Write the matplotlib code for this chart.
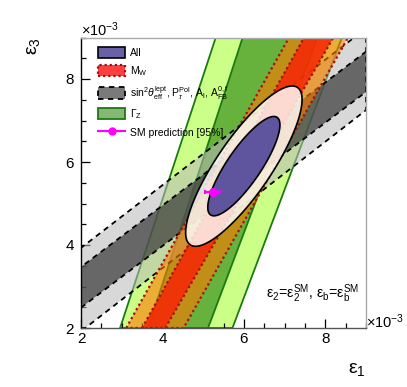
import numpy as np
import matplotlib
matplotlib.use('Agg')
import matplotlib.pyplot as plt
from matplotlib.patches import Polygon, Patch
from matplotlib.lines import Line2D
from matplotlib.ticker import MultipleLocator

plt.rcParams['font.family'] = ['Liberation Sans', 'DejaVu Sans']
plt.rcParams['mathtext.fontset'] = 'custom'
plt.rcParams['mathtext.rm'] = 'Liberation Sans'
plt.rcParams['mathtext.it'] = 'Liberation Sans:italic'
plt.rcParams['mathtext.bf'] = 'Liberation Sans:bold'

# ---------------- data (units of 1e-3) ----------------
XLIM = [2, 9]
YLIM = [2, 9]
x_ticks = [2, 4, 6, 8]
y_ticks = [2, 4, 6, 8]

# Gamma_Z band: x of boundary at y=2 and y=9
gz_outer_lo = [2.96, 5.31]
gz_outer_hi = [5.72, 8.41]
gz_inner_lo = [3.65, 5.97]
gz_inner_hi = [5.12, 7.81]

# M_W band: x of boundary at y=2 and y=9
mw_outer_lo = [3.11, 7.11]
mw_outer_hi = [4.52, 8.56]
mw_inner_lo = [3.50, 7.48]
mw_inner_hi = [4.07, 8.20]

# sin2theta band: y of boundary at x=2 and x=9
st_outer_lo = [1.92, 7.25]
st_outer_hi = [3.93, 9.22]
st_inner_lo = [2.49, 7.69]
st_inner_hi = [3.47, 8.66]

# combined fit ellipse
all_center = [6.0, 5.9]
all_sigma = [0.584, 0.789]
all_rho = 0.83
cl_k = [1.517, 2.448]  # 68%, 95% (2 dof)

# SM prediction
sm_x = [5.23]
sm_y = [5.27]
sm_xerr = [0.18]

labels = ['All', 'M$_{\\rm W}$',
          'sin$^2\\theta^{\\rm lept}_{\\rm eff}$, P$^{\\rm Pol}_{\\tau}$, A$_{\\rm l}$, A$^{\\rm 0,f}_{\\rm FB}$',
          '\u0393$_{\\rm Z}$', 'SM prediction [95%]']


# ---------------- helpers ----------------
def clip_poly(pts, xmin, xmax, ymin, ymax):
    def clip(points, inside, intersect):
        out = []
        n = len(points)
        for i in range(n):
            cur = points[i]
            prev = points[i - 1]
            if inside(cur):
                if not inside(prev):
                    out.append(intersect(prev, cur))
                out.append(cur)
            elif inside(prev):
                out.append(intersect(prev, cur))
        return out

    def ix(xc):
        def f(p, q):
            t = (xc - p[0]) / (q[0] - p[0])
            return (xc, p[1] + t * (q[1] - p[1]))
        return f

    def iy(yc):
        def f(p, q):
            t = (yc - p[1]) / (q[1] - p[1])
            return (p[0] + t * (q[0] - p[0]), yc)
        return f

    pts = clip(pts, lambda p: p[0] >= xmin, ix(xmin))
    pts = clip(pts, lambda p: p[0] <= xmax, ix(xmax))
    pts = clip(pts, lambda p: p[1] >= ymin, iy(ymin))
    pts = clip(pts, lambda p: p[1] <= ymax, iy(ymax))
    return pts


def vband(lo, hi):
    y0, y1 = YLIM
    pts = [(lo[0], y0), (lo[1], y1), (hi[1], y1), (hi[0], y0)]
    return clip_poly(pts, XLIM[0], XLIM[1], YLIM[0], YLIM[1])


def hband(lo, hi):
    x0, x1 = XLIM
    pts = [(x0, lo[0]), (x1, lo[1]), (x1, hi[1]), (x0, hi[0])]
    return clip_poly(pts, XLIM[0], XLIM[1], YLIM[0], YLIM[1])


def ellipse(k):
    t = np.linspace(0, 2 * np.pi, 200)
    x = all_center[0] + k * all_sigma[0] * np.cos(t)
    y = all_center[1] + k * all_sigma[1] * (all_rho * np.cos(t) + np.sqrt(1 - all_rho ** 2) * np.sin(t))
    return np.column_stack([x, y])


# ---------------- figure ----------------
W, H = 407, 387
fig = plt.figure(figsize=(W / 100, H / 100), dpi=100)
ax = fig.add_axes([81 / W, 1 - 328 / H, (366 - 81) / W, (328 - 37.5) / H])
ax.set_xlim(XLIM)
ax.set_ylim(YLIM)

gz_dark = '#1c7a12'
ax.add_patch(Polygon(vband(gz_outer_lo, gz_outer_hi), closed=True, facecolor='#ccff88',
                     edgecolor=gz_dark, lw=1.3, zorder=1))
ax.add_patch(Polygon(vband(gz_inner_lo, gz_inner_hi), closed=True, facecolor='#66b23c',
                     edgecolor=gz_dark, lw=1.3, zorder=2))

ax.add_patch(Polygon(hband(st_outer_lo, st_outer_hi), closed=True, facecolor=(0.72, 0.72, 0.72, 0.55),
                     edgecolor='black', lw=1.3, linestyle=(0, (3, 2.5)), zorder=3))
ax.add_patch(Polygon(hband(st_inner_lo, st_inner_hi), closed=True, facecolor=(0.22, 0.22, 0.22, 0.7),
                     edgecolor='black', lw=1.3, linestyle=(0, (3, 2.5)), zorder=4))

mw_edge = '#a01010'
ax.add_patch(Polygon(vband(mw_outer_lo, mw_outer_hi), closed=True, facecolor=(1.0, 0.47, 0.0, 0.6),
                     edgecolor=mw_edge, lw=1.6, linestyle=(0, (1, 1.3)), zorder=5))
ax.add_patch(Polygon(vband(mw_inner_lo, mw_inner_hi), closed=True, facecolor=(0.96, 0.16, 0.02, 0.88),
                     edgecolor=mw_edge, lw=1.6, linestyle=(0, (1, 1.3)), zorder=6))

ax.add_patch(Polygon(ellipse(cl_k[1]), closed=True, facecolor=(1, 1, 1, 0.82),
                     edgecolor='black', lw=1.2, zorder=7))
ax.add_patch(Polygon(ellipse(cl_k[0]), closed=True, facecolor='#5f559f',
                     edgecolor='black', lw=1.2, zorder=8))

ax.errorbar(sm_x, sm_y, xerr=sm_xerr, fmt='o', color='#ff00ff', ms=5.5, lw=1.6,
            capsize=1.5, capthick=1.5, zorder=9)

# axes style
for side in ['top', 'right']:
    ax.spines[side].set_color('#aaaaaa')
    ax.spines[side].set_linewidth(1.0)
ax.spines['left'].set_color('black')
ax.spines['bottom'].set_color('#555555')
ax.spines['left'].set_linewidth(1.0)
ax.spines['bottom'].set_linewidth(1.0)
for s in ax.spines.values():
    s.set_zorder(20)
ax.set_xticks(x_ticks)
ax.set_yticks(y_ticks)
ax.xaxis.set_minor_locator(MultipleLocator(0.5))
ax.yaxis.set_minor_locator(MultipleLocator(0.5))
ax.tick_params(which='both', direction='in', top=False, right=False, labelsize=11, width=0.9)
ax.tick_params(which='major', length=6.5)
ax.tick_params(which='minor', length=3.5)
ax.tick_params(axis='x', pad=3)
ax.tick_params(axis='y', pad=5)

fig.text(81 / W, 1 - 36 / H, '$\\times$10$^{-3}$', ha='left', va='baseline', fontsize=10.5)
fig.text(366 / W, 1 - 322 / H, '$\\times$10$^{-3}$', ha='left', va='center', fontsize=10.5)
fig.text(33 / W, 1 - 46 / H, '\u03b5$_3$', rotation=90, ha='center', va='center', fontsize=14)
fig.text(366 / W, 1 - 370 / H, '\u03b5$_1$', ha='right', va='center', fontsize=14)
fig.text(359 / W, 1 - 294 / H, '\u03b5$_2$=\u03b5$_2^{\\rm SM}$, \u03b5$_{\\rm b}$=\u03b5$_{\\rm b}^{\\rm SM}$',
         ha='right', va='center', fontsize=10.2)

handles = [
    Patch(facecolor='#6a60a8', edgecolor='black', lw=1.2),
    Patch(facecolor='#ff4040', edgecolor=mw_edge, lw=1.6, linestyle=(0, (1, 1.3))),
    Patch(facecolor='#7a7a7a', edgecolor='black', lw=1.3, linestyle=(0, (3, 2.5))),
    Patch(facecolor='#84b874', edgecolor=gz_dark, lw=1.3),
    Line2D([], [], color='#ff00ff', marker='o', ms=5, lw=1.5),
]
leg = ax.legend(handles, labels, loc='upper left', bbox_to_anchor=(98 / W, 1 - 47 / H),
                bbox_transform=fig.transFigure, frameon=False, fontsize=7.5,
                handlelength=2.6, handleheight=1.3, handletextpad=0.45, labelspacing=0.55,
                borderpad=0, borderaxespad=0)
leg.set_zorder(30)

fig.savefig('out.png', dpi=100)
